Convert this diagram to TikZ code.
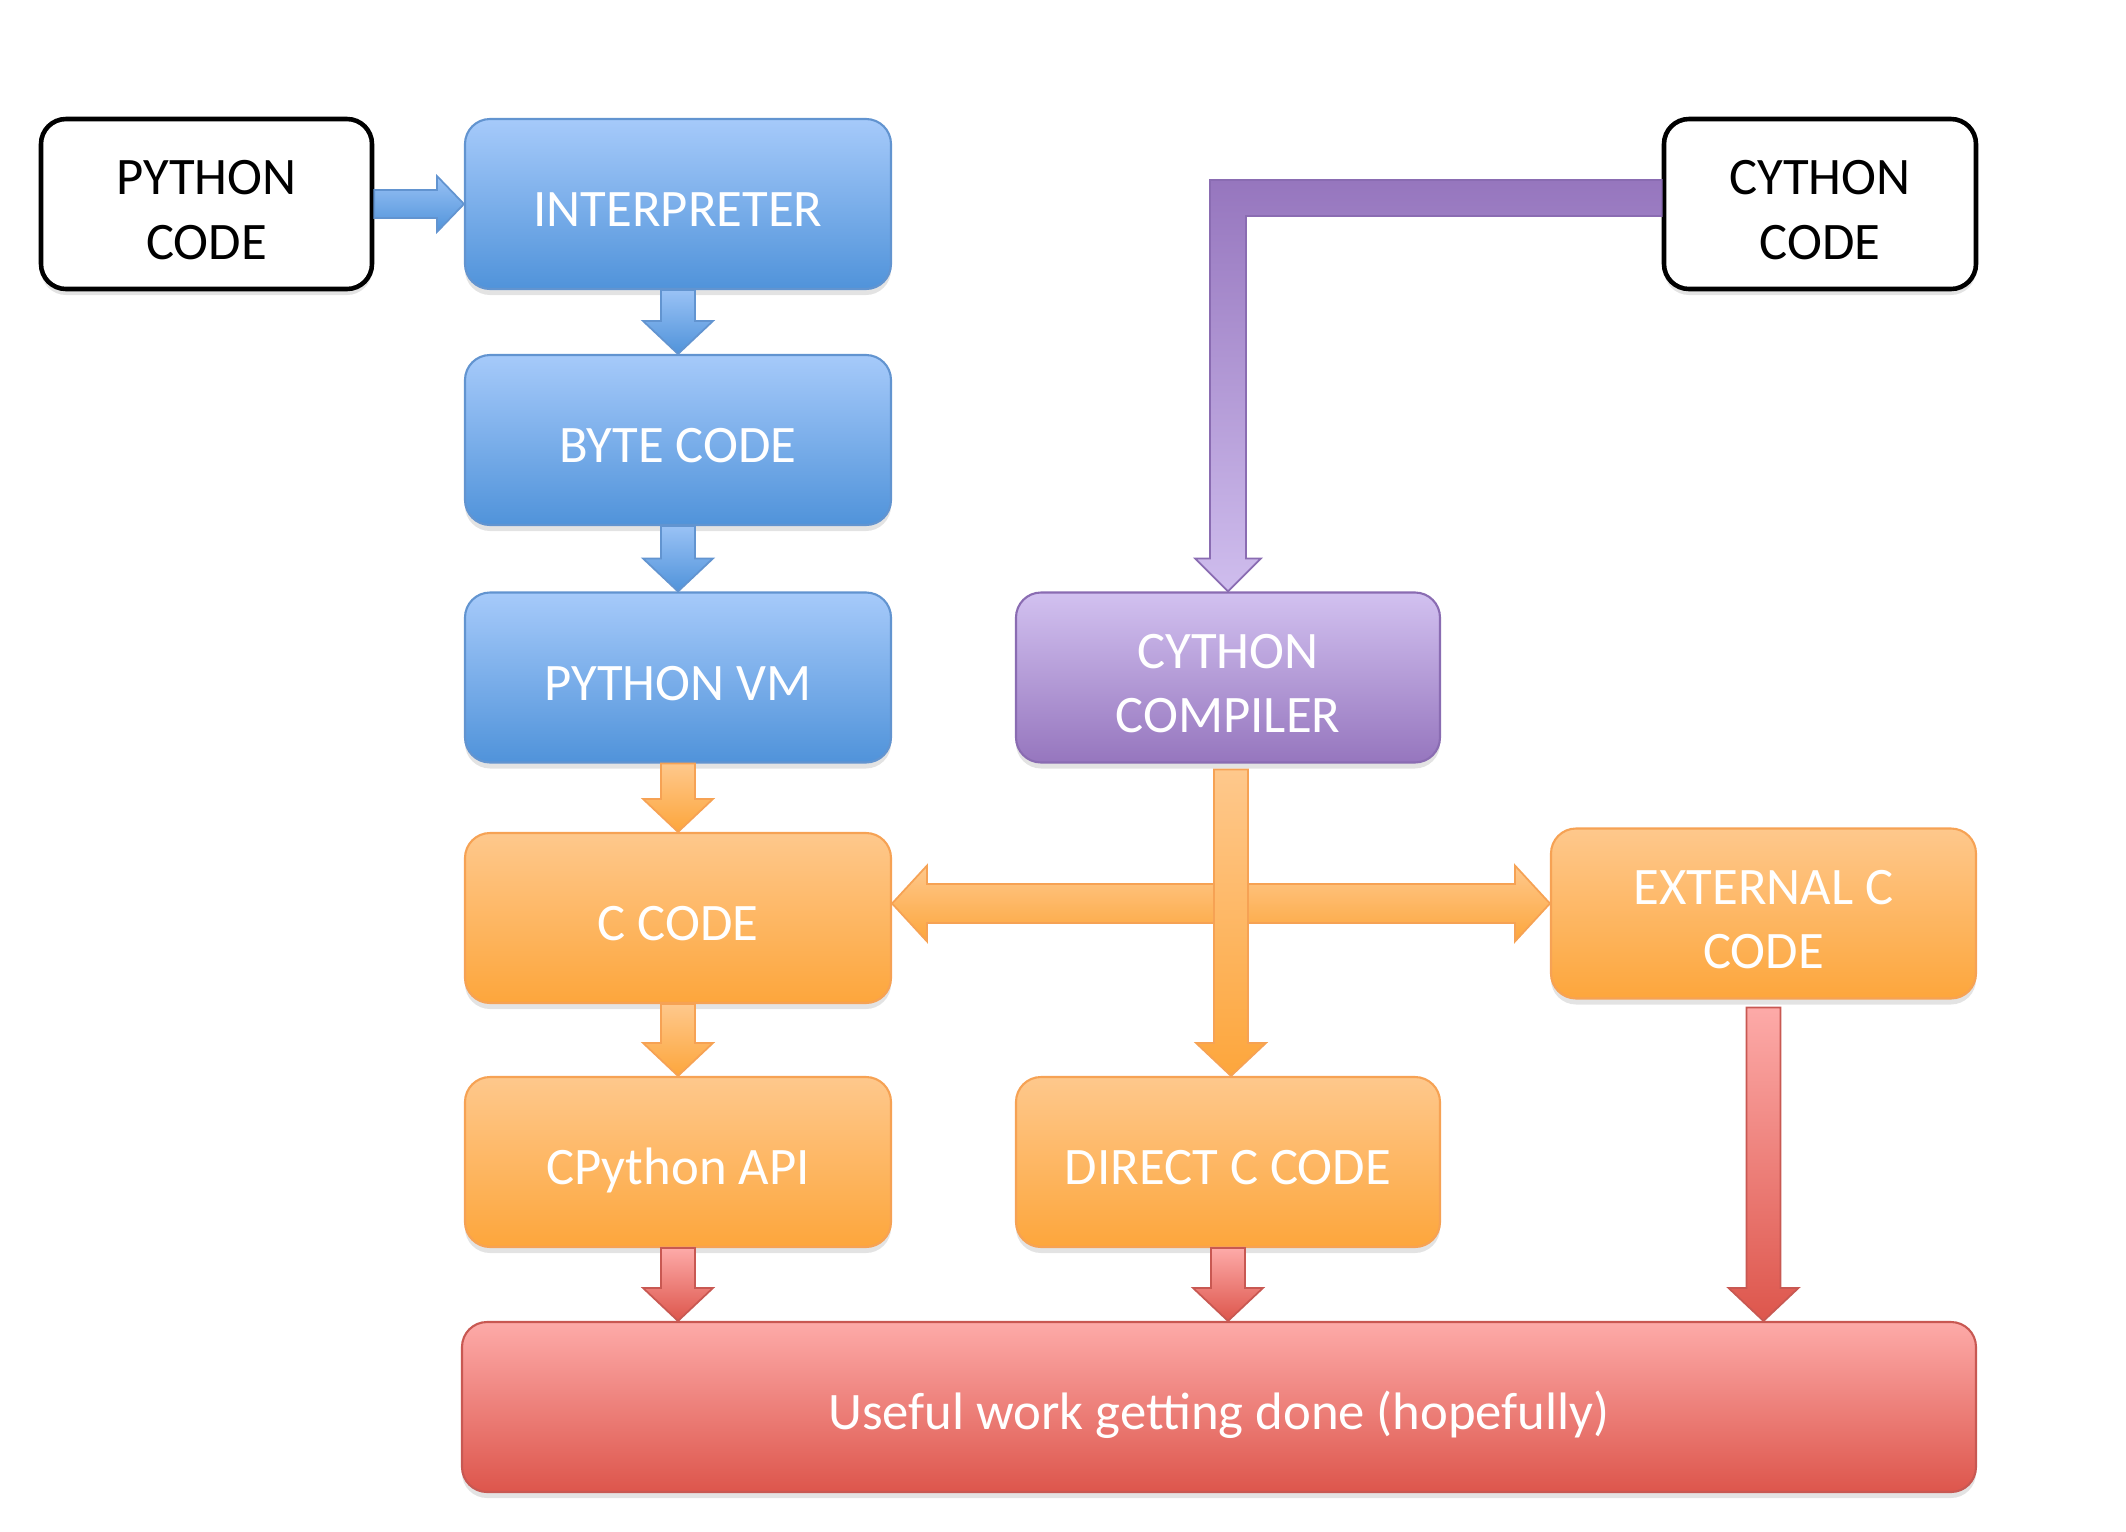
\documentclass[tikz,border=0pt]{standalone}
\usepackage{fontspec}
\setmainfont{Carlito}
\usepackage{tikz}
\usetikzlibrary{calc, shadows}

\definecolor{blueTop}{RGB}{166,202,250}
\definecolor{blueBot}{RGB}{80,147,218}
\definecolor{blueLine}{RGB}{98,148,208}
\definecolor{orangeTop}{RGB}{254,200,140}
\definecolor{orangeBot}{RGB}{253,166,60}
\definecolor{orangeLine}{RGB}{246,162,84}
\definecolor{purpleTop}{RGB}{210,193,240}
\definecolor{purpleBot}{RGB}{150,118,190}
\definecolor{purpleLine}{RGB}{138,108,178}
\definecolor{redTop}{RGB}{253,170,168}
\definecolor{redBot}{RGB}{221,86,76}
\definecolor{redLine}{RGB}{200,88,82}

\tikzset{
  box/.style={rounded corners=0.25cm, minimum height=1.7cm, align=center,
    text=white, font=\fontsize{15}{18.3}\selectfont, inner sep=0pt, line width=0.6pt,
    text height=12.8pt, text depth=0pt,
    drop shadow={shadow xshift=0pt, shadow yshift=-0.06cm, opacity=0.22}},
  twoline/.style={text height=31.4pt},
  bluebox/.style={box, draw=blueLine, top color=blueTop, bottom color=blueBot, minimum width=4.26cm},
  orangebox/.style={box, draw=orangeLine, top color=orangeTop, bottom color=orangeBot, minimum width=4.26cm},
  purplebox/.style={box, draw=purpleLine, top color=purpleTop, bottom color=purpleBot, minimum width=4.24cm},
  redbox/.style={box, draw=redLine, top color=redTop, bottom color=redBot},
  codebox/.style={box, draw=black, line width=1.3pt, fill=white, text=black},
  bluearr/.style={draw=blueLine, line width=0.5pt, top color=blueTop!85!blueBot, bottom color=blueBot},
  orangearr/.style={draw=orangeLine, line width=0.5pt, top color=orangeTop, bottom color=orangeBot},
  redarr/.style={draw=redLine, line width=0.5pt, top color=redTop, bottom color=redBot},
  purplearr/.style={draw=purpleLine, line width=0.5pt, top color=purpleBot, bottom color=purpleTop!95!purpleBot},
}

\begin{document}
\begin{tikzpicture}
\useasboundingbox (0,0) rectangle (21.26,-15.32);

% block arrow sizes
\def\sw{0.17cm}
\def\hw{0.35cm}
\def\hl{0.33cm}
\def\vblock#1#2#3{%
  \path[#3] let \p1=(#1), \p2=(#2) in
    (\x1-\sw,\y1) -- (\x1-\sw,\y2+\hl) -- (\x1-\hw,\y2+\hl) -- (\x1,\y2)
    -- (\x1+\hw,\y2+\hl) -- (\x1+\sw,\y2+\hl) -- (\x1+\sw,\y1) -- cycle;}

% boxes
\node[codebox, twoline, minimum width=3.31cm] (pycode) at (2.065,-2.04) {PYTHON\\CODE};
\node[codebox, twoline, minimum width=3.12cm] (cycode) at (18.20,-2.04) {CYTHON\\CODE};
\node[bluebox] (interp) at (6.78,-2.04) {INTERPRETER};
\node[bluebox] (bytecode) at (6.78,-4.40) {BYTE CODE};
\node[bluebox] (pyvm) at (6.78,-6.775) {PYTHON VM};
\node[purplebox, twoline] (cycomp) at (12.28,-6.775) {CYTHON\\COMPILER};
\node[orangebox] (ccode) at (6.78,-9.18) {C CODE};
\node[orangebox, twoline, minimum width=4.25cm] (external) at (17.635,-9.135) {EXTERNAL C\\CODE};
\node[orangebox] (capi) at (6.78,-11.62) {CPython API};
\node[orangebox, minimum width=4.24cm] (direct) at (12.28,-11.62) {DIRECT C CODE};
\node[redbox, minimum width=15.14cm] (useful) at (12.19,-14.07) {Useful work getting done (hopefully)};

% python code -> interpreter
\path[bluearr] let \p1=(pycode.east), \p2=(interp.west) in
  (\x1,\y1+0.14cm) -- (\x2-0.27cm,\y1+0.14cm) -- (\x2-0.27cm,\y1+0.28cm) -- (\x2,\y1)
  -- (\x2-0.27cm,\y1-0.28cm) -- (\x2-0.27cm,\y1-0.14cm) -- (\x1,\y1-0.14cm) -- cycle;

% short arrows down the left column
\vblock{interp.south}{bytecode.north}{bluearr}
\vblock{bytecode.south}{pyvm.north}{bluearr}
\vblock{pyvm.south}{ccode.north}{orangearr}
\vblock{ccode.south}{capi.north}{orangearr}
\vblock{capi.south}{useful.north}{redarr}
\vblock{direct.south}{useful.north}{redarr}
\vblock{$(external.south)+(0,-0.08)$}{useful.north}{redarr}

% cython code -> cython compiler
\path[purplearr] let \p1=($(cycode.west)+(0,0.06)$), \p2=(cycomp.north) in
  (\x1,\y1+0.18cm) -- (\x2-0.18cm,\y1+0.18cm) -- (\x2-0.18cm,\y2+0.33cm)
  -- (\x2-0.33cm,\y2+0.33cm) -- (\x2,\y2) -- (\x2+0.33cm,\y2+0.33cm)
  -- (\x2+0.18cm,\y2+0.33cm) -- (\x2+0.18cm,\y1-0.18cm) -- (\x1,\y1-0.18cm) -- cycle;

% c code <-> external c code
\path[orangearr] let \p1=(ccode.east), \p2=(external.west), \p3=($(external.west)+(0,0.1)$) in
  (\x1,\y3) -- (\x1+0.35cm,\y3+0.38cm) -- (\x1+0.35cm,\y3+0.195cm)
  -- (\x2-0.35cm,\y3+0.195cm) -- (\x2-0.35cm,\y3+0.38cm) -- (\x2,\y3)
  -- (\x2-0.35cm,\y3-0.38cm) -- (\x2-0.35cm,\y3-0.195cm)
  -- (\x1+0.35cm,\y3-0.195cm) -- (\x1+0.35cm,\y3-0.38cm) -- cycle;

% cython compiler -> direct c code
\vblock{$(cycomp.south)+(0.03,-0.06)$}{direct.north}{orangearr}

\end{tikzpicture}
\end{document}
